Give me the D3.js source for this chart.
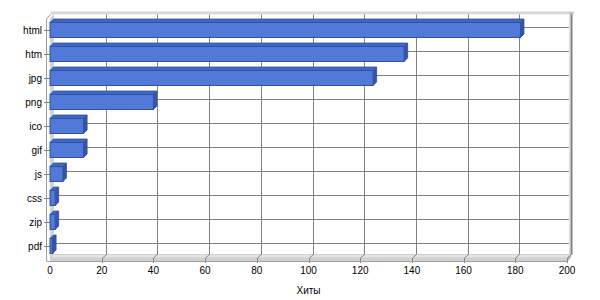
<!DOCTYPE html>
<html>
<head>
<meta charset="utf-8">
<script src="https://cdn.jsdelivr.net/npm/d3@7"></script>
<style>
  body { margin: 0; background: #fff; }
  text { font-family: Arial, "Liberation Sans", sans-serif; font-size: 10px; fill: #000; }
</style>
</head>
<body>
<script>
// data
const categories = ["html", "htm", "jpg", "png", "ico", "gif", "js", "css", "zip", "pdf"];
const hits = [182, 137, 125, 40, 13, 13, 5, 2, 2, 1];
const xTicks = [0, 20, 40, 60, 80, 100, 120, 140, 160, 180, 200];
const axisTitle = "Хиты";

(function() {

const width = 600, height = 300;
const plotTop = 18, plotBottom = 258;   // front plane
const dx = 4, dy = -3.5;                // wall depth
const bx = 3.5, by = -3.5;              // bar depth

let svg = d3.select("body").append("svg")
    .attr("width", width)
    .attr("height", height);

let x = d3.scaleLinear().domain([0, 200]).range([50, 567]);
let y = d3.scaleBand().domain(categories).range([plotTop, plotBottom])
    .paddingInner(0.375).paddingOuter(0.1875);

const x0 = x(0), x1 = x(200);

// back wall thickness (top + right)
svg.append("rect")
    .attr("x", x0 + dx - 3).attr("y", plotTop + dy - 3)
    .attr("width", x1 - x0 + 6).attr("height", 3)
    .attr("fill", "#d8d8d8");
svg.append("rect")
    .attr("x", x1 + dx - 1.5).attr("y", plotTop + dy - 2.5)
    .attr("width", 3.5).attr("height", plotBottom - plotTop + 3)
    .attr("fill", "#c0c0c0");

// back wall
svg.append("rect")
    .attr("x", x0 + dx).attr("y", plotTop + dy)
    .attr("width", x1 - x0 - 2).attr("height", plotBottom - plotTop)
    .attr("fill", "#fff");

// left wall (inner face)
svg.append("polygon")
    .attr("points", [[x0, plotTop], [x0 + dx, plotTop + dy], [x0 + dx, plotBottom + dy], [x0, plotBottom]].join(" "))
    .attr("fill", "#d4d4d4");

// floor
svg.append("polygon")
    .attr("points", [[x0, plotBottom], [x0 + dx, plotBottom + dy], [x1 + dx, plotBottom + dy], [x1, plotBottom]].join(" "))
    .attr("fill", "#e4e4e4")
    .attr("stroke", "#c8c8c8")
    .attr("stroke-width", 0.8);
svg.append("rect")
    .attr("x", x0).attr("y", plotBottom)
    .attr("width", x1 - x0 + 1).attr("height", 3)
    .attr("fill", "#d0d0d0");
svg.append("polygon")
    .attr("points", [[x1, plotBottom], [x1 + dx, plotBottom + dy], [x1 + dx, plotBottom + dy + 3], [x1 + 1, plotBottom + 3]].join(" "))
    .attr("fill", "#b8b8b8");

// vertical gridlines on the back wall + floor
let grid = svg.append("g").attr("stroke", "#808080").attr("stroke-width", 1).attr("fill", "none");
xTicks.forEach(function(t) {
    if (t === 0) return;
    let xb = Math.round(x(t) + dx) + 0.5;
    let xf = Math.round(x(t)) + 0.5;
    grid.append("path")
        .attr("d", "M" + xb + "," + (plotTop + dy) + "V" + (plotBottom + dy) + "L" + xf + "," + plotBottom + "V" + (plotBottom + 5));
});

// horizontal gridlines at category centres (back wall)
categories.forEach(function(c) {
    let yc = Math.round(y(c) + y.bandwidth() / 2 + dy) + 0.5;
    grid.append("path")
        .attr("d", "M" + (x0 + dx) + "," + yc + "H" + (x1 + dx - 2));
});

// outer frame (left edge / bottom)
svg.append("path")
    .attr("d", "M46.5," + (plotBottom + 3) + "V" + (plotTop + 1) + "L" + (x0 + 0.5) + "," + (plotTop + dy))
    .attr("stroke", "#9a9a9a").attr("fill", "none");
svg.append("path")
    .attr("d", "M46.5," + (plotBottom + 3.5) + "H" + (x1 + 1))
    .attr("stroke", "#a0a0a0").attr("fill", "none");

// category ticks and labels
let yAxis = svg.append("g");
categories.forEach(function(c) {
    let yc = Math.round(y(c) + y.bandwidth() / 2) + 0.5;
    yAxis.append("path")
        .attr("d", "M44," + yc + "H" + x0)
        .attr("stroke", "#808080");
    yAxis.append("text")
        .attr("x", 42)
        .attr("y", yc)
        .attr("dy", "0.35em")
        .attr("text-anchor", "end")
        .text(c);
});

// bars
let bars = svg.append("g").selectAll("g")
    .data(hits)
    .enter()
    .append("g");

bars.each(function(d, i) {
    let g = d3.select(this);
    let y0 = y(categories[i]);
    let y1 = y0 + y.bandwidth();
    let xe = x(d);
    // top face
    g.append("polygon")
        .attr("points", [[x0, y0], [x0 + bx, y0 + by], [xe + bx, y0 + by], [xe, y0]].join(" "))
        .attr("fill", "#4166c4")
        .attr("stroke", "#2f4e9e").attr("stroke-width", 0.8);
    // side face
    g.append("polygon")
        .attr("points", [[xe, y0], [xe + bx, y0 + by], [xe + bx, y1 + by], [xe, y1]].join(" "))
        .attr("fill", "#3354a8")
        .attr("stroke", "#2f4e9e").attr("stroke-width", 0.8);
    // front face
    g.append("rect")
        .attr("x", x0).attr("y", y0)
        .attr("width", xe - x0).attr("height", y1 - y0)
        .attr("fill", "#5079d8")
        .attr("stroke", "#3052a6").attr("stroke-width", 1);
});

// value axis labels
svg.append("g").selectAll("text")
    .data(xTicks)
    .enter()
    .append("text")
    .attr("x", function(d) { return x(d); })
    .attr("y", 274)
    .attr("text-anchor", "middle")
    .text(function(d) { return d; });

svg.append("text")
    .attr("x", (x0 + x1) / 2)
    .attr("y", 294)
    .attr("text-anchor", "middle")
    .text(axisTitle);

})();
</script>
</body>
</html>
